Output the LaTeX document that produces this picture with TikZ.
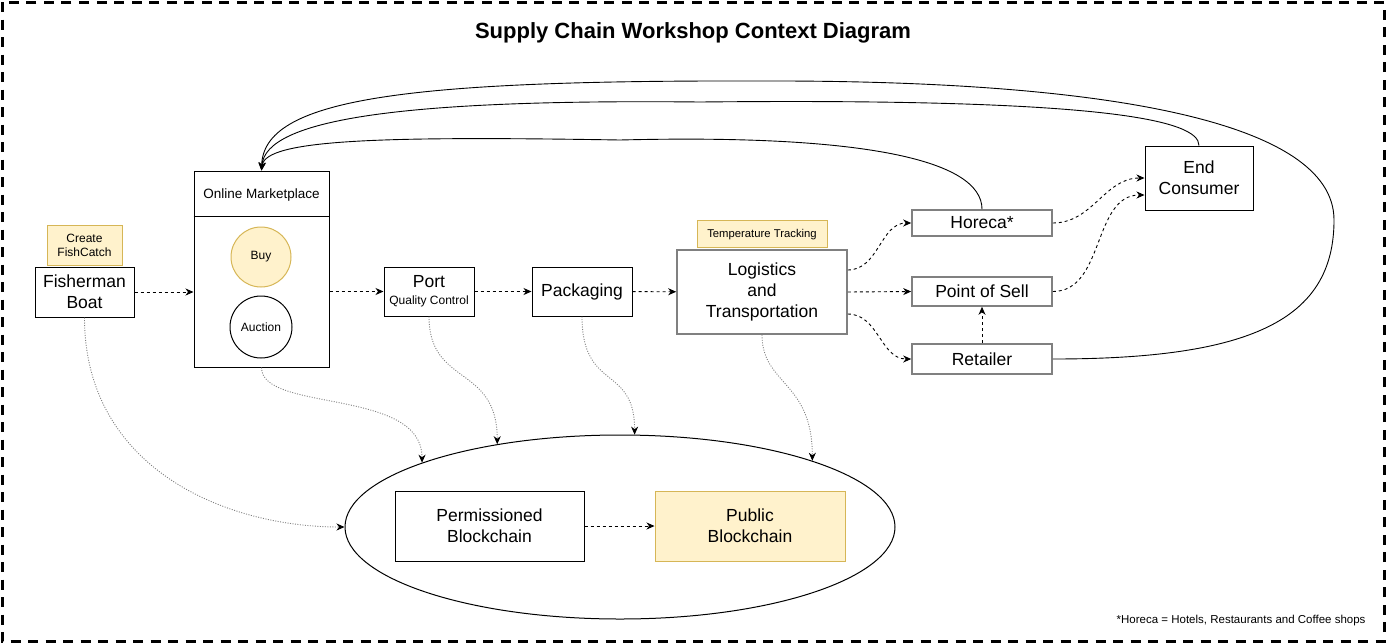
\documentclass[tikz,border=0pt]{standalone}
\usepackage{fontspec}
\setmainfont{Liberation Sans}
\usepackage{xcolor}
\usepackage{tikz}
\usetikzlibrary{positioning,arrows.meta,shapes.geometric}

\definecolor{notefill}{HTML}{FFF2CC}
\definecolor{noteline}{HTML}{D6B656}
\definecolor{boxgray}{HTML}{808080}

\begin{document}
\begin{tikzpicture}[x=1pt,y=1pt,
    box/.style={draw,line width=1pt,inner sep=0pt,align=center,
      font=\fontsize{17.5}{21}\selectfont},
    graybox/.style={box,draw=boxgray,line width=1.6pt},
    tag/.style={draw=noteline,fill=notefill,line width=1pt,inner sep=0pt,
      align=center,font=\fontsize{12}{14}\selectfont},
    tip/.style={-{Stealth[length=8pt,width=7pt,inset=2.5pt,color=black]}},
    dflow/.style={tip,line width=0.9pt,dash pattern=on 3pt off 3pt},
    pflow/.style={tip,boxgray,line width=0.9pt,dash pattern=on 1pt off 1.5pt},
    sflow/.style={tip,line width=0.9pt}]
    \useasboundingbox (0,0) rectangle (1386,-643);
    \draw[line width=3pt,dash pattern=on 10pt off 7.5pt] (2,-2) rectangle (1384,-641);
    \node[font=\bfseries\fontsize{22}{26}\selectfont] (title) at (693,-33)
      {Supply Chain Workshop Context Diagram};

    % main chain
    \node[box,minimum width=99,minimum height=50] (boat) at (84.5,-292) {Fisherman\\Boat};
    \node[tag,minimum width=75,minimum height=40,above=1pt of boat] (catch) {Create\\FishCatch};
    \node[box,minimum width=135,minimum height=196] (market) at (261.5,-269) {};
    \draw[line width=1pt] ([yshift=-46pt]market.north west) -- ([yshift=-46pt]market.north east);
    \node[font=\fontsize{13.5}{16}\selectfont] (mtitle) at (261.5,-195) {Online Marketplace};
    \node[circle,draw=noteline,fill=notefill,line width=1pt,minimum size=60,
      font=\fontsize{12}{14}\selectfont] (buy) at (261,-257) {Buy};
    \node[circle,draw,line width=1pt,minimum size=62,
      font=\fontsize{12}{14}\selectfont] (auction) at (261,-327) {Auction};
    \node[box,minimum width=90,minimum height=49] (port) at (429,-291.5)
      {Port\\[-4pt]{\fontsize{12}{14}\selectfont Quality Control}};
    \node[box,minimum width=100,minimum height=49] (pack) at (582,-291.5) {Packaging};
    \node[graybox,minimum width=170,minimum height=84] (logi) at (762,-292)
      {Logistics\\and\\Transportation};
    \node[tag,minimum width=130,minimum height=27,above=1pt of logi,
      font=\fontsize{11.3}{13}\selectfont] (temp) {Temperature Tracking};

    % sellers
    \node[graybox,minimum width=140,minimum height=26] (horeca) at (982,-223) {Horeca*};
    \node[graybox,minimum width=140,minimum height=29] (pos) at (982,-291.5) {Point of Sell};
    \node[graybox,minimum width=140,minimum height=30] (retail) at (982,-359) {Retailer};
    \node[box,minimum width=108,minimum height=64] (consumer) at (1199,-178) {End\\Consumer};

    % blockchain
    \node[ellipse,draw,line width=1pt,minimum width=550,minimum height=184] (chain) at (620,-527) {};
    \node[box,minimum width=189,minimum height=70] (perm) at (489.5,-526) {Permissioned\\Blockchain};
    \node[tag,minimum width=190,minimum height=70,
      font=\fontsize{17.5}{21}\selectfont] (pub) at (750,-526) {Public\\Blockchain};

    \node[anchor=east,font=\fontsize{11.5}{14}\selectfont] (foot) at (1369,-621)
      {*Horeca = Hotels, Restaurants and Coffee shops};

    % dashed flows
    \draw[dflow] (boat.east) -- (boat.east -| market.west);
    \draw[dflow] (port.west -| market.east) -- (port.west);
    \draw[dflow] (port) -- (pack);
    \draw[dflow] (pack) -- (logi);
    \draw[dflow] ([yshift=22pt]logi.east) to[out=0,in=180] (horeca.west);
    \draw[dflow] (logi.east) -- (pos.west);
    \draw[dflow] ([yshift=-22pt]logi.east) to[out=0,in=180] (retail.west);
    \draw[dflow] (horeca.east) to[out=0,in=180] (consumer.west);
    \draw[dflow] (pos.east) to[out=0,in=180] ([yshift=-17pt]consumer.west);
    \draw[dflow] (retail) -- (pos);
    \draw[dflow] (perm) -- (pub);

    % records to the blockchain
    \draw[pflow] (boat.south) .. controls +(0,-150) and +(-120,0) .. (chain.west);
    \draw[pflow] (market.south) .. controls +(0,-45) and +(0,75) .. (chain.162);
    \draw[pflow] (port.south) .. controls +(0,-70) and +(0,80) .. (chain.146);
    \draw[pflow] (pack.south) .. controls +(0,-75) and +(0,70) .. (chain.81);
    \draw[pflow] (logi.south) .. controls +(0,-50) and +(0,80) .. (chain.19);

    % feedback to the marketplace
    \coordinate (innerTop) at (620,-140);
    \coordinate (midTop) at (700,-102);
    \coordinate (outRight) at (1334,-220);
    \coordinate (outTop) at (760,-81);
    \draw[sflow] (horeca.north) .. controls +(0,50) and +(240,6) .. (innerTop)
      .. controls +(-240,4) and +(4,31) .. (market.north);
    \draw[sflow] (consumer.north) .. controls +(0,26) and +(400,4) .. (midTop)
      .. controls +(-300,3) and +(4,51) .. (market.north);
    \draw[sflow] (retail.east) .. controls +(198,0) and +(0,-100) .. (outRight)
      .. controls +(0,100) and +(340,1) .. (outTop)
      .. controls +(-360,1) and +(2,71) .. (market.north);
  \end{tikzpicture}
\end{document}
